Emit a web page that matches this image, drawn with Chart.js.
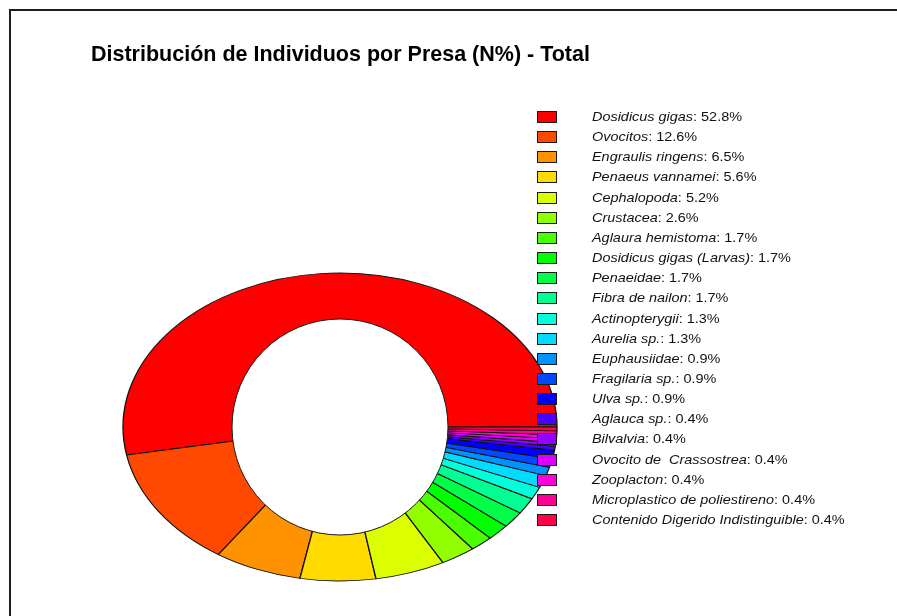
<!DOCTYPE html>
<html lang="es">
<head>
<meta charset="utf-8">
<title>Distribución de Individuos por Presa (N%) - Total</title>
<script src="https://cdn.jsdelivr.net/npm/chart.js@4.4.1/dist/chart.umd.min.js"></script>
<style>
  html, body {
    margin: 0;
    padding: 0;
    background: #ffffff;
    overflow: hidden;
  }
  #page {
    position: relative;
    width: 897px;
    height: 616px;
    font-family: "Liberation Sans", Arial, sans-serif;
  }
  #chartWrap {
    position: absolute;
    left: 0;
    top: 0;
    width: 897px;
    height: 616px;
  }
  #frame {
    position: absolute;
    left: 9px;
    top: 9px;
    width: 900px;
    height: 620px;
    border-top: 2px solid #1e1e1e;
    border-left: 2px solid #1e1e1e;
    pointer-events: none;
  }
  #title {
    position: absolute;
    left: 91px;
    top: 44px;
    font-size: 21.5px;
    line-height: 21.5px;
    font-weight: bold;
    color: #000;
    white-space: nowrap;
  }
  .legend-row {
    position: absolute;
    left: 537px;
    height: 20px;
    width: 360px;
  }
  .legend-box {
    position: absolute;
    left: 0;
    top: 4px;
    width: 20px;
    height: 12px;
    box-sizing: border-box;
    border: 1px solid #1a1a1a;
  }
  .legend-text {
    position: absolute;
    left: 55px;
    top: 0;
    font-size: 13px;
    line-height: 20px;
    color: #111;
    white-space: pre;
    transform: scaleX(1.11);
    transform-origin: left center;
  }
  .legend-text i {
    font-style: italic;
  }
</style>
</head>
<body>
<div id="page">
  <div id="chartWrap"><canvas id="preyChart"></canvas></div>
  <div id="frame"></div>
  <div id="title">Distribución de Individuos por Presa (N%) - Total</div>
  <div id="legend"></div>
</div>
<script>
const preyLabels = [
  "Dosidicus gigas",
  "Ovocitos",
  "Engraulis ringens",
  "Penaeus vannamei",
  "Cephalopoda",
  "Crustacea",
  "Aglaura hemistoma",
  "Dosidicus gigas (Larvas)",
  "Penaeidae",
  "Fibra de nailon",
  "Actinopterygii",
  "Aurelia sp.",
  "Euphausiidae",
  "Fragilaria sp.",
  "Ulva sp.",
  "Aglauca sp.",
  "Bilvalvia",
  "Ovocito de  Crassostrea",
  "Zooplacton",
  "Microplastico de poliestireno",
  "Contenido Digerido Indistinguible",
];

const preyPercent = [52.8, 12.6, 6.5, 5.6, 5.2, 2.6, 1.7, 1.7, 1.7, 1.7, 1.3, 1.3, 0.9, 0.9, 0.9, 0.4, 0.4, 0.4, 0.4, 0.4, 0.4];

const sliceColors = [
  "#FF0000", "#FF4900", "#FF9200", "#FFDB00", "#DBFF00", "#92FF00", "#49FF00",
  "#00FF00", "#00FF49", "#00FF92", "#00FFDB", "#00DBFF", "#0092FF", "#0049FF",
  "#0000FF", "#4900FF", "#9200FF", "#DB00FF", "#FF00DB", "#FF0092", "#FF0049",
];

// where the squashed ring sits on the page
const RING_CENTER_X = 340;
const RING_CENTER_Y = 427;
const RING_RADIUS_X = 217;
const RING_RADIUS_Y = 154;
const HOLE_RADIUS = 108;

const LEGEND_TOP = 107;
const LEGEND_STEP = 20.15;

// squash the pie into an ellipse and run it counter-clockwise
const ellipsePlugin = {
  id: "ellipseRing",
  beforeDatasetsDraw(chart) {
    const arc = chart.getDatasetMeta(0).data[0];
    if (!arc) return;
    const ctx = chart.ctx;
    ctx.save();
    ctx.translate(RING_CENTER_X, RING_CENTER_Y);
    ctx.scale(RING_RADIUS_X / arc.outerRadius, -RING_RADIUS_Y / arc.outerRadius);
    ctx.translate(-arc.x, -arc.y);
  },
  afterDatasetsDraw(chart) {
    const ctx = chart.ctx;
    ctx.restore();
    ctx.save();
    ctx.beginPath();
    ctx.arc(RING_CENTER_X, RING_CENTER_Y, HOLE_RADIUS, 0, Math.PI * 2);
    ctx.fillStyle = "#ffffff";
    ctx.fill();
    ctx.lineWidth = 1;
    ctx.strokeStyle = "#1a1a1a";
    ctx.stroke();
    ctx.restore();
  },
};

new Chart(document.getElementById("preyChart"), {
  type: "doughnut",
  data: {
    labels: preyLabels,
    datasets: [{
      data: preyPercent,
      backgroundColor: sliceColors,
      borderColor: "#111111",
      borderWidth: 1.3,
      clip: false,
    }],
  },
  options: {
    responsive: true,
    maintainAspectRatio: false,
    animation: false,
    rotation: 90,
    cutout: "40%",
    layout: {
      padding: { top: 91, bottom: 91, left: 0, right: 0 },
    },
    plugins: {
      legend: { display: false },
      title: { display: false },
      tooltip: { enabled: false },
    },
  },
  plugins: [ellipsePlugin],
});

function renderLegend() {
  const legendEl = document.getElementById("legend");
  preyLabels.forEach((label, index) => {
    const row = document.createElement("div");
    row.className = "legend-row";
    row.style.top = `${LEGEND_TOP + index * LEGEND_STEP}px`;

    const box = document.createElement("div");
    box.className = "legend-box";
    box.style.background = sliceColors[index];

    const text = document.createElement("div");
    text.className = "legend-text";
    const name = document.createElement("i");
    name.textContent = label;
    text.appendChild(name);
    text.appendChild(document.createTextNode(`: ${preyPercent[index].toFixed(1)}%`));

    row.appendChild(box);
    row.appendChild(text);
    legendEl.appendChild(row);
  });
}

renderLegend();
</script>
</body>
</html>
